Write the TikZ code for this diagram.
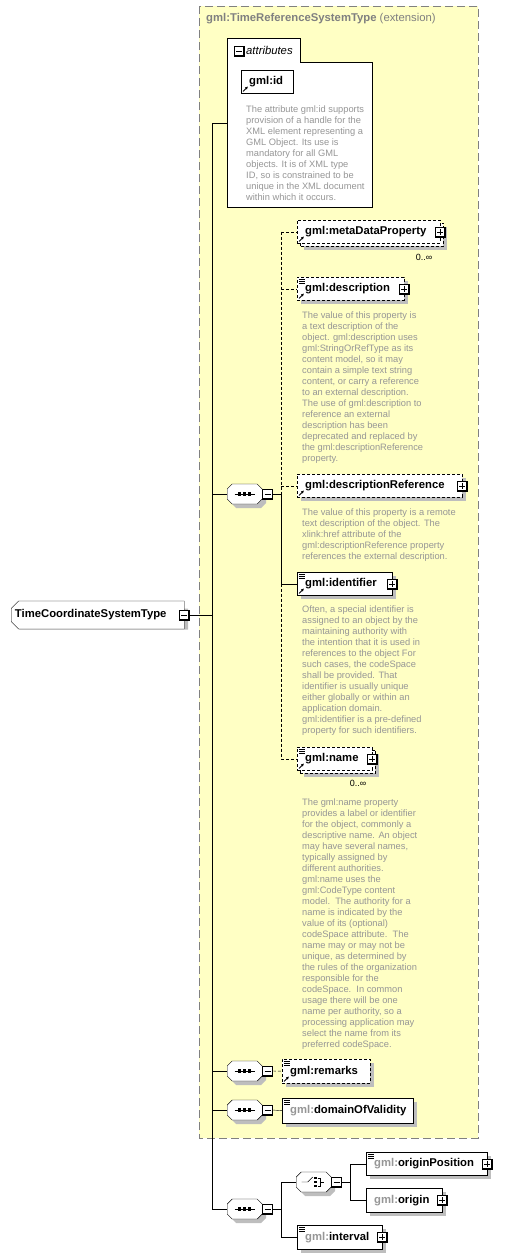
\documentclass[tikz,border=0pt]{standalone}
\usepackage{fontspec}
\setmainfont{Liberation Sans}
\usetikzlibrary{shapes.misc}
\usetikzlibrary{arrows.meta}
\usetikzlibrary{positioning}

\definecolor{extfill}{RGB}{255,255,196}
\definecolor{extline}{RGB}{128,128,128}
\definecolor{doctext}{RGB}{150,150,150}
\definecolor{shadegray}{RGB}{190,190,190}

\pgfdeclarelayer{back}
\pgfdeclarelayer{shade}
\pgfsetlayers{back,shade,main}

% small marks inside the element boxes
\newcommand{\docmark}[1]{%
  \foreach \k in {2,4,6} \draw[line width=0.7pt] ([xshift=2pt,yshift=-\k pt]#1.north west) -- ++(6pt,0);}
\newcommand{\refmark}[1]{%
  \draw[line width=0.9pt,-{Latex[length=3pt,width=3pt]}] ([xshift=2pt,yshift=2pt]#1.south west) -- ++(5pt,5pt);}
\newcommand{\seqmark}[1]{%
  \draw ([xshift=-10pt]#1.center) -- ([xshift=10pt]#1.center);
  \foreach \d in {-5,0,5} \fill ([xshift=\d pt]#1.center) +(-1.6pt,-1.6pt) rectangle +(1.6pt,1.6pt);}
\newcommand{\choicemark}[1]{%
  \draw ([xshift=-12pt]#1.center) -- ([xshift=-6pt]#1.center) -- ([xshift=-1pt,yshift=5pt]#1.center);
  \foreach \d in {-4,0,4} \fill ([xshift=2pt,yshift=\d pt]#1.center) +(-1.4pt,-1.4pt) rectangle +(1.4pt,1.4pt);
  \draw ([xshift=4pt,yshift=4pt]#1.center) -- ([xshift=6pt,yshift=4pt]#1.center) -- ([xshift=6pt,yshift=-4pt]#1.center) -- ([xshift=4pt,yshift=-4pt]#1.center);
  \draw ([xshift=6pt]#1.center) -- ([xshift=10pt]#1.center);}
% gray shadows below the boxes
\newcommand{\boxshadow}[1]{%
  \begin{pgfonlayer}{shade}
    \fill[shadegray] ([shift={(4pt,-4pt)}]#1.south west) rectangle ([shift={(4pt,-4pt)}]#1.north east);
  \end{pgfonlayer}}
\newcommand{\stackshadow}[1]{%
  \begin{pgfonlayer}{shade}
    \fill[shadegray] ([shift={(7pt,-7pt)}]#1.south west) rectangle ([shift={(7pt,-7pt)}]#1.north east);
    \filldraw[fill=white,dash pattern=on 3pt off 2pt] ([shift={(3pt,-3pt)}]#1.south west) rectangle ([shift={(3pt,-3pt)}]#1.north east);
  \end{pgfonlayer}}
\newcommand{\seqshadow}[1]{%
  \begin{pgfonlayer}{shade}
    \node[seqnode,fill=shadegray,draw=none] (#1shade) at ([shift={(4pt,-4pt)}]#1.west) {};
  \end{pgfonlayer}}

\begin{document}
\begin{tikzpicture}[x=1pt,y=-1pt,line width=1pt,
    elem/.style={draw,fill=white,anchor=north west,inner xsep=8pt,inner ysep=0pt,minimum height=23pt,
      align=left,text width=#1,font=\fontsize{11.3}{13}\selectfont\bfseries},
    optional/.style={dash pattern=on 3pt off 2pt},
    doc/.style={anchor=north west,inner sep=0pt,align=left,text=doctext,font=\fontsize{9.3}{11}\selectfont},
    mult/.style={inner sep=0pt,font=\fontsize{9}{11}\selectfont},
    seqnode/.style={chamfered rectangle,chamfered rectangle xsep=5pt,draw,fill=white,minimum width=35pt,
      text height=0pt,text depth=0pt,inner xsep=0pt,inner ysep=10pt,anchor=west},
    typenode/.style={chamfered rectangle,chamfered rectangle corners={north west,south west},chamfered rectangle xsep=4pt,
      draw,fill=white,minimum width=173pt,text height=8pt,text depth=3pt,inner xsep=0pt,inner ysep=5pt,anchor=west,
      font=\fontsize{11.3}{13}\selectfont\bfseries},
    signbox/.style={draw,fill=white,minimum size=10pt,inner sep=0pt},
    minusbox/.style={signbox,path picture={\draw ([xshift=2pt]path picture bounding box.west) -- ([xshift=-2pt]path picture bounding box.east);
      \draw[line width=2pt] (path picture bounding box.north east) -- (path picture bounding box.south east) -- (path picture bounding box.south west);}},
    plusbox/.style={signbox,path picture={\draw ([xshift=2pt]path picture bounding box.west) -- ([xshift=-2pt]path picture bounding box.east);
      \draw ([yshift=-2pt]path picture bounding box.north) -- ([yshift=2pt]path picture bounding box.south);
      \draw[line width=2pt] (path picture bounding box.north east) -- (path picture bounding box.south east) -- (path picture bounding box.south west);}}]
  \useasboundingbox (0,0) rectangle (515,1259);

  % extension frame
  \begin{pgfonlayer}{back}
    \draw[fill=extfill,draw=extline,dash pattern=on 8pt off 4pt] (199,6) rectangle (478,1138);
  \end{pgfonlayer}
  \node[anchor=west,inner sep=0pt,text=extline,font=\fontsize{11.3}{13}\selectfont] (title) at (206,19)
    {\textbf{gml:TimeReferenceSystemType} (extension)};

  % attributes
  \draw[fill=white] (227,38) -- (300,38) -- (300,62) -- (372,62) -- (372,207) -- (227,207) -- cycle;
  \node[minusbox] (attrminus) at (239,51) {};
  \node[anchor=west,inner sep=0pt,font=\fontsize{11.3}{13}\selectfont\itshape] (attrlabel) at (246,50) {attributes};
  \node[elem=36pt] (id) at (241,70) {gml:id};
  \boxshadow{id}
  \refmark{id}
  \node[doc] (iddoc) at (246,106) {The attribute gml:id supports\\provision of a handle for the\\XML element representing a\\GML Object. Its use is\\mandatory for all GML\\objects. It is of XML type\\ID, so is constrained to be\\unique in the XML document\\within which it occurs.};
  \coordinate (attrs) at (227,123);

  % complex type
  \node[typenode] (ctype) at (11,615) {\hspace*{-14pt}TimeCoordinateSystemType};
  \begin{pgfonlayer}{shade}
    \node[typenode,fill=shadegray,draw=none] (ctypeshade) at ([shift={(4pt,-4pt)}]ctype.west) {};
  \end{pgfonlayer}
  \node[minusbox] (ctypeminus) at (ctype.east) {};

  % first sequence
  \node[seqnode] (seqa) at (227,494) {};
  \seqshadow{seqa}
  \seqmark{seqa}
  \node[minusbox,anchor=west] (seqaminus) at (seqa.east) {};

  \node[elem=127pt,optional] (meta) at (297,220) {gml:metaDataProperty};
  \stackshadow{meta}
  \refmark{meta}
  \node[plusbox] (metaplus) at (meta.east) {};
  \node[mult] (metamult) at (424,257) {0..∞};

  \node[elem=91pt,optional] (desc) at (297,277) {gml:description};
  \boxshadow{desc}
  \docmark{desc}
  \refmark{desc}
  \node[plusbox] (descplus) at (desc.east) {};
  \node[doc] (descdoc) at (302,312) {The value of this property is\\a text description of the\\object. gml:description uses\\gml:StringOrRefType as its\\content model, so it may\\contain a simple text string\\content, or carry a reference\\to an external description.\\The use of gml:description to\\reference an external\\description has been\\deprecated and replaced by\\the gml:descriptionReference\\property.};

  \node[elem=149pt,optional] (descref) at (297,474) {gml:descriptionReference};
  \boxshadow{descref}
  \refmark{descref}
  \node[plusbox] (descrefplus) at (descref.east) {};
  \node[doc] (descrefdoc) at (302,509) {The value of this property is a remote\\text description of the object. The\\xlink:href attribute of the\\gml:descriptionReference property\\references the external description.};

  \node[elem=79pt] (ident) at (297,572) {gml:identifier};
  \boxshadow{ident}
  \docmark{ident}
  \refmark{ident}
  \node[plusbox] (identplus) at (ident.east) {};
  \node[doc] (identdoc) at (302,606) {Often, a special identifier is\\assigned to an object by the\\maintaining authority with\\the intention that it is used in\\references to the object For\\such cases, the codeSpace\\shall be provided. That\\identifier is usually unique\\either globally or within an\\application domain.\\gml:identifier is a pre-defined\\property for such identifiers.};

  \node[elem=59pt,optional] (gname) at (297,747) {gml:name};
  \stackshadow{gname}
  \docmark{gname}
  \refmark{gname}
  \node[plusbox] (gnameplus) at (gname.east) {};
  \node[mult] (gnamemult) at (358,783) {0..∞};
  \node[doc] (gnamedoc) at (302,799) {The gml:name property\\provides a label or identifier\\for the object, commonly a\\descriptive name. An object\\may have several names,\\typically assigned by\\different authorities.\\gml:name uses the\\gml:CodeType content\\model.\ \ The authority for a\\name is indicated by the\\value of its (optional)\\codeSpace attribute.\ \ The\\name may or may not be\\unique, as determined by\\the rules of the organization\\responsible for the\\codeSpace.\ \ In common\\usage there will be one\\name per authority, so a\\processing application may\\select the name from its\\preferred codeSpace.};

  % remarks and domain of validity
  \node[seqnode] (seqb) at (227,1071) {};
  \seqshadow{seqb}
  \seqmark{seqb}
  \node[minusbox,anchor=west] (seqbminus) at (seqb.east) {};
  \node[elem=72pt,optional,minimum height=24pt] (remarks) at (282,1059) {gml:remarks};
  \boxshadow{remarks}
  \docmark{remarks}
  \refmark{remarks}

  \node[seqnode] (seqc) at (227,1110) {};
  \seqshadow{seqc}
  \seqmark{seqc}
  \node[minusbox,anchor=west] (seqcminus) at (seqc.east) {};
  \node[elem=115pt,minimum height=25pt] (domain) at (282,1098) {\textcolor{doctext}{gml:}domainOfValidity};
  \boxshadow{domain}
  \docmark{domain}

  % own content
  \node[seqnode] (seqd) at (227,1209) {};
  \seqshadow{seqd}
  \seqmark{seqd}
  \node[minusbox,anchor=west] (seqdminus) at (seqd.east) {};
  \node[seqnode] (choice) at (296,1182) {};
  \seqshadow{choice}
  \choicemark{choice}
  \node[minusbox,anchor=west] (choiceminus) at (choice.east) {};

  \node[elem=105pt] (originpos) at (366,1152) {\textcolor{doctext}{gml:}originPosition};
  \boxshadow{originpos}
  \docmark{originpos}
  \node[plusbox] (originposplus) at (originpos.east) {};
  \node[elem=60pt,minimum height=24pt] (origin) at (366,1188) {\textcolor{doctext}{gml:}origin};
  \boxshadow{origin}
  \node[plusbox] (originplus) at (origin.east) {};
  \node[elem=69pt,minimum height=24pt] (interval) at (297,1225) {\textcolor{doctext}{gml:}interval};
  \boxshadow{interval}
  \docmark{interval}
  \node[plusbox] (intervalplus) at (interval.east) {};

  % connectors
  \coordinate (spine) at (212,123);
  \draw (attrs) -- (spine) -- (spine |- seqd.west) -- (seqd.west);
  \draw (ctypeminus.east) -- (spine |- ctypeminus.east);
  \draw (spine |- seqa.west) -- (seqa.west);
  \draw (spine |- seqb.west) -- (seqb.west);
  \draw (spine |- seqc.west) -- (seqc.west);

  \coordinate (inner) at (281,0);
  \draw (seqaminus.east) -- (inner |- seqaminus.east);
  \draw[optional] (inner |- meta.west) -- (inner |- seqaminus.east);
  \draw (inner |- seqaminus.east) -- (inner |- ident.west);
  \draw[optional] (inner |- ident.west) -- (inner |- gname.west);
  \draw[optional] (inner |- meta.west) -- (meta.west);
  \draw[optional] (inner |- desc.west) -- (desc.west);
  \draw[optional] (inner |- descref.west) -- (descref.west);
  \draw (inner |- ident.west) -- (ident.west);
  \draw[optional] (inner |- gname.west) -- (gname.west);

  \draw[optional] (seqbminus.east) -- (remarks.west);
  \draw (seqcminus.east) -- (domain.west);

  \coordinate (lower) at (281,0);
  \draw (seqdminus.east) -- (lower |- seqdminus.east);
  \draw (choice.west) -- (lower |- choice.west) -- (lower |- interval.west) -- (interval.west);
  \coordinate (fork) at (350,0);
  \draw (choiceminus.east) -- (fork |- choiceminus.east);
  \draw (originpos.west) -- (fork |- originpos.west) -- (fork |- origin.west) -- (origin.west);
\end{tikzpicture}
\end{document}
